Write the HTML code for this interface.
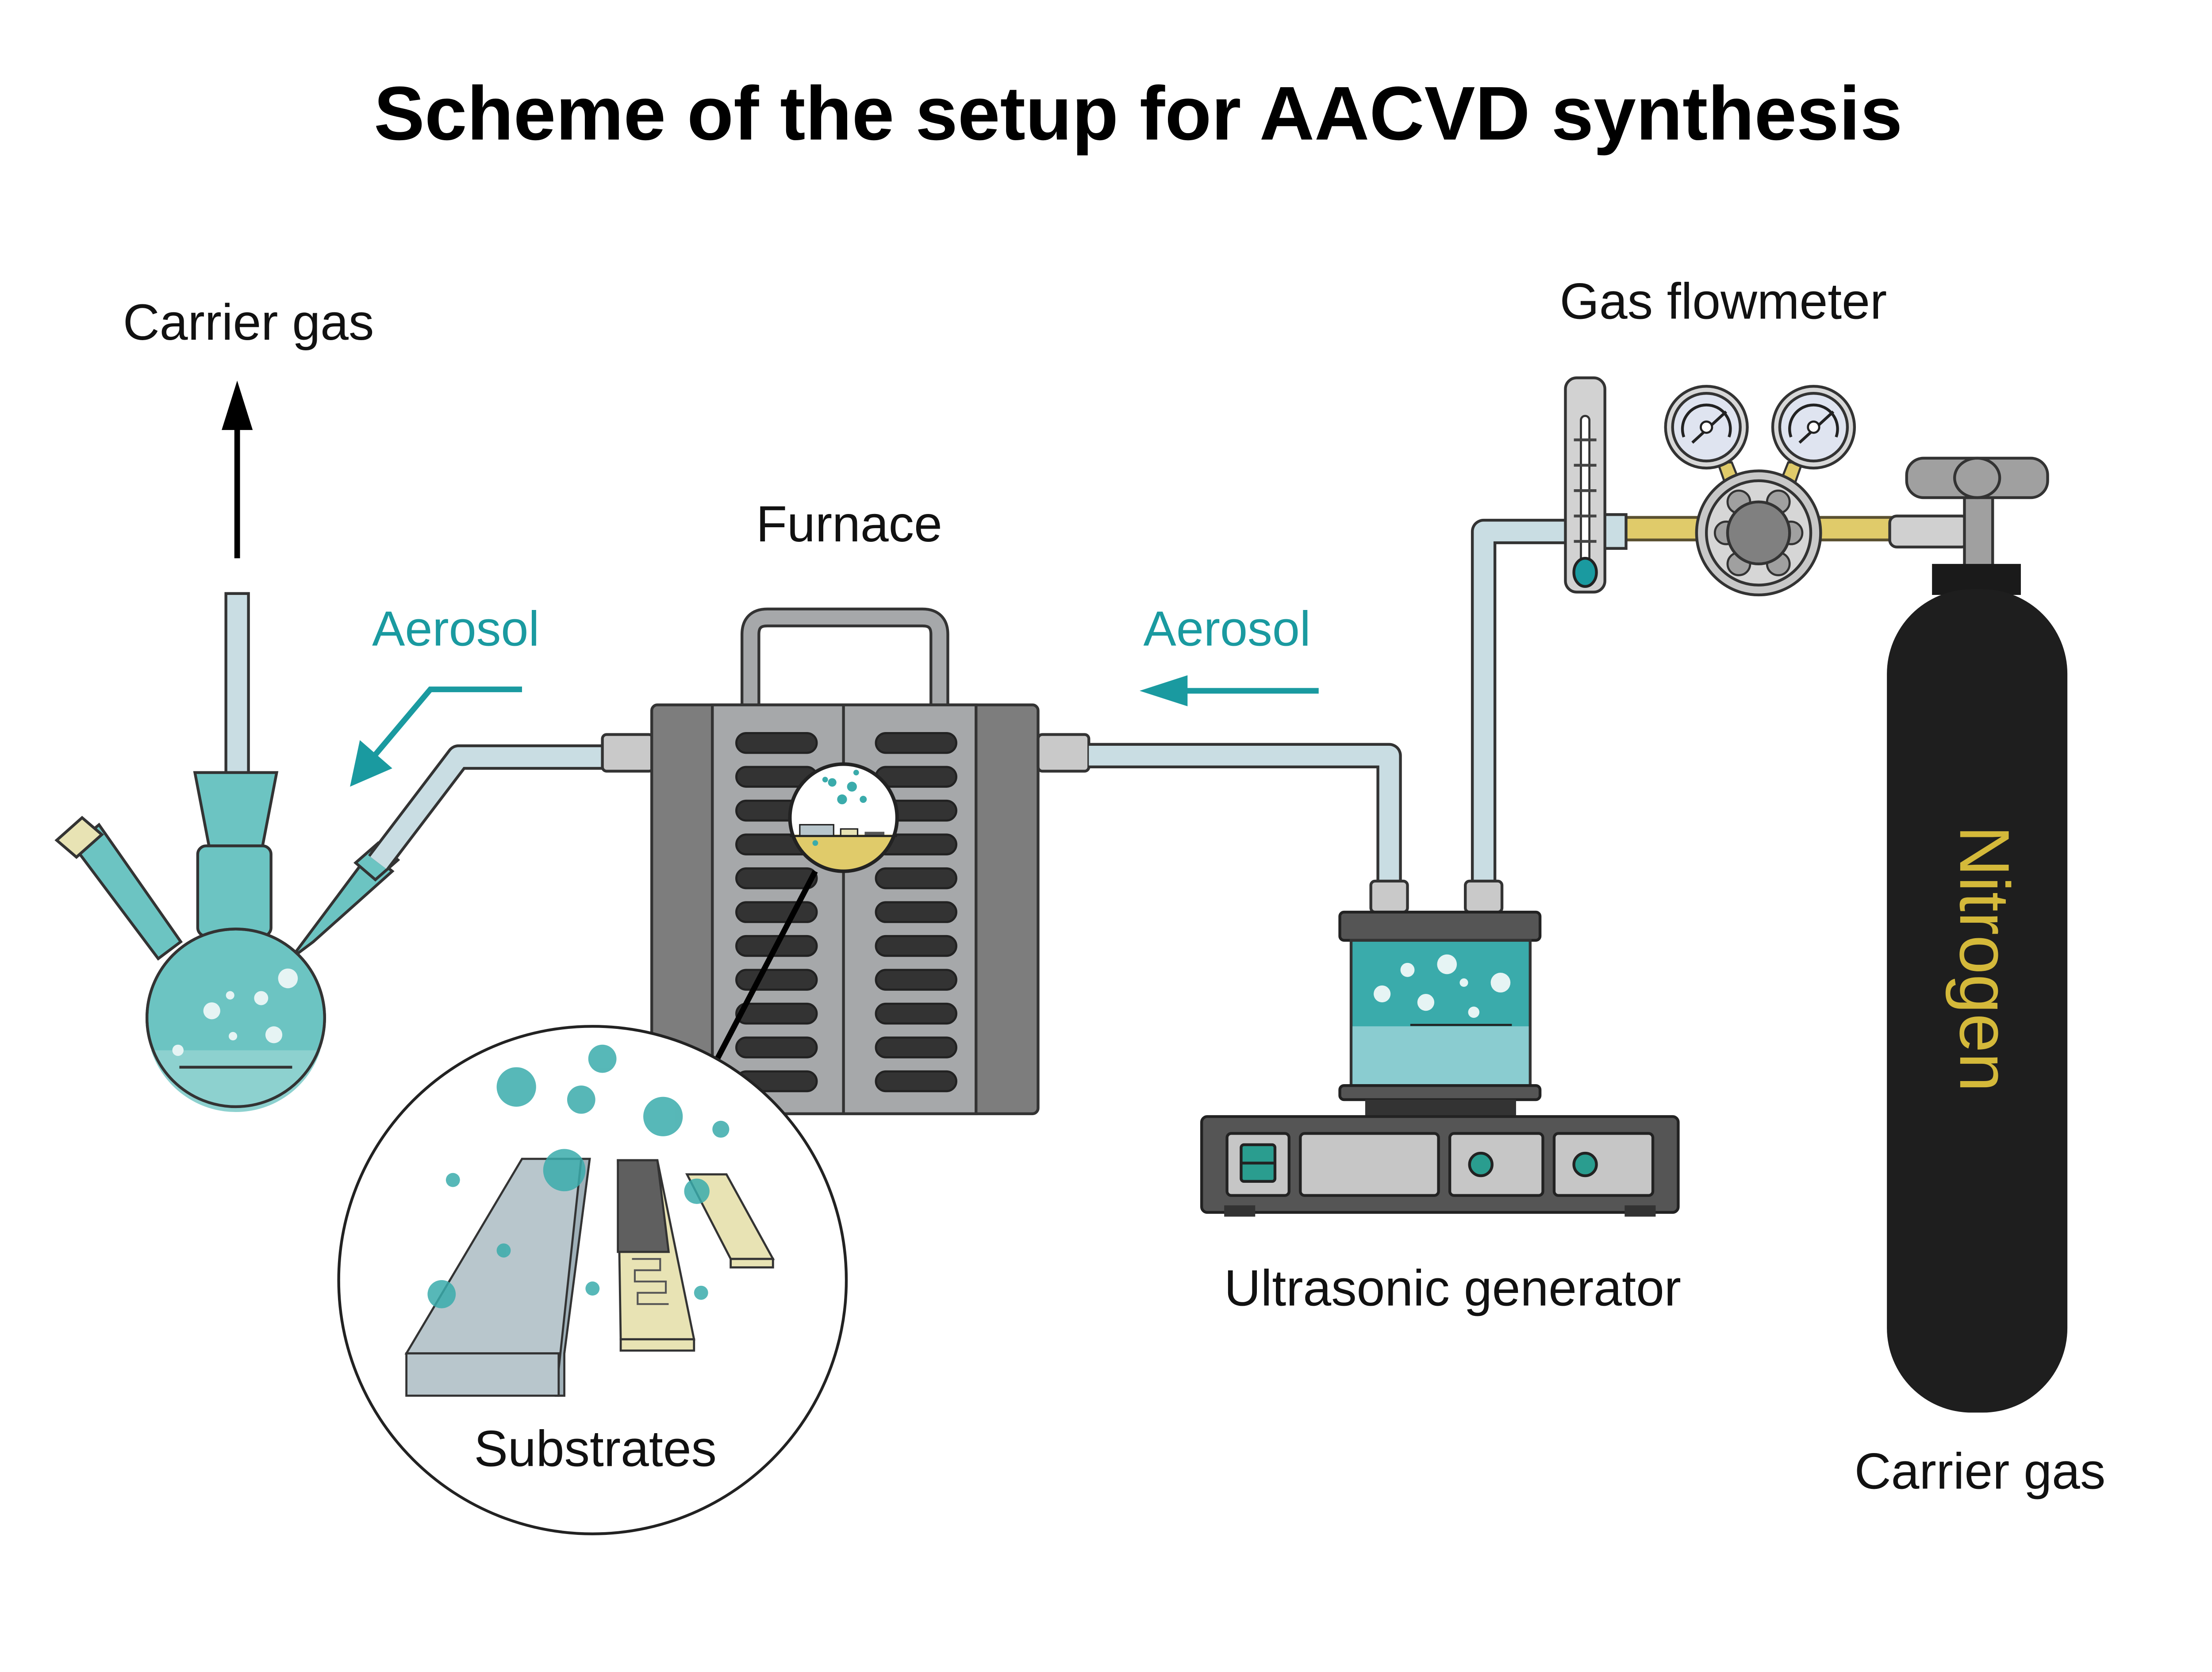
<!DOCTYPE html>
<html><head><meta charset="utf-8"><style>
html,body{margin:0;padding:0;background:#fff;}
svg{display:block;}
text{font-family:"Liberation Sans",sans-serif;}
</style></head><body>
<svg width="5120" height="3780" viewBox="0 0 1606 1186" xmlns="http://www.w3.org/2000/svg">
<rect width="1606" height="1186" fill="#fff"/>
<text x="807" y="99" font-size="54" font-weight="bold" text-anchor="middle" fill="#000">Scheme of the setup for AACVD synthesis</text>

<!-- left carrier gas -->
<text x="176" y="241" font-size="36" text-anchor="middle" fill="#111">Carrier gas</text>
<line x1="168" y1="396" x2="168" y2="300" stroke="#000" stroke-width="4"/>
<polygon points="168,270 157,305 179,305" fill="#000"/>

<!-- flask -->
<g stroke="#333" stroke-width="2">
<rect x="160" y="421" width="16" height="130" fill="#c9dde3"/>
<polygon points="52,600 70,585 128,668 112,680" fill="#6cc4c2"/>
<polygon points="40,596 58,580 72,592 54,608" fill="#e8e3b4"/>
<polygon points="222,668 206,680 262,605 278,618" fill="#6cc4c2"/>
<polygon points="252,612 268,598 282,610 266,624" fill="#6cc4c2"/>
<polygon points="138,548 196,548 186,600 148,600" fill="#6cc4c2"/>
<rect x="140" y="600" width="52" height="64" rx="6" fill="#6cc4c2"/>
<circle cx="167" cy="722" r="63" fill="#6cc4c2"/>
</g>
<path d="M107,745 A63 63 0 0 0 227,745 Z" fill="#8dd1cf"/>
<line x1="127" y1="757" x2="207" y2="757" stroke="#333" stroke-width="2"/>
<circle cx="167" cy="722" r="63" fill="none" stroke="#333" stroke-width="2"/>
<g fill="#e6f4f4"><circle cx="150" cy="717" r="6"/><circle cx="185" cy="708" r="5"/><circle cx="204" cy="694" r="7"/><circle cx="194" cy="734" r="6"/><circle cx="165" cy="735" r="3"/><circle cx="126" cy="745" r="4"/><circle cx="163" cy="706" r="3"/></g>

<!-- pipe left -->
<path d="M268,612 L325,537 L430,537" fill="none" stroke="#333" stroke-width="18" stroke-linejoin="round"/>
<path d="M268,612 L325,537 L430,537" fill="none" stroke="#c9dde3" stroke-width="14" stroke-linejoin="round"/>
<rect x="427" y="521" width="36" height="26" rx="3" fill="#c9c9c9" stroke="#333" stroke-width="2"/>

<!-- Aerosol left -->
<text x="323" y="458" font-size="35" text-anchor="middle" fill="#1a9aa0">Aerosol</text>
<path d="M370,489 L305,489 L262,540" fill="none" stroke="#1a9aa0" stroke-width="4"/>
<polygon points="248,558 255,525 278,545" fill="#1a9aa0"/>

<!-- furnace -->
<text x="602" y="384" font-size="36" text-anchor="middle" fill="#111">Furnace</text>
<path d="M532,500 L532,450 Q532,438 544,438 L654,438 Q666,438 666,450 L666,500" fill="none" stroke="#333" stroke-width="14"/>
<path d="M532,500 L532,450 Q532,438 544,438 L654,438 Q666,438 666,450 L666,500" fill="none" stroke="#a6a8aa" stroke-width="10"/>
<rect x="462" y="500" width="274" height="290" rx="4" fill="#7d7d7d" stroke="#333" stroke-width="2"/>
<rect x="505" y="500" width="187" height="290" fill="#a6a8aa" stroke="#333" stroke-width="2"/>
<line x1="598" y1="500" x2="598" y2="790" stroke="#333" stroke-width="2"/>
<g fill="#333" stroke="#222" stroke-width="1.5">
<rect x="522" y="520" width="57" height="14" rx="7"/><rect x="621" y="520" width="57" height="14" rx="7"/>
<rect x="522" y="544" width="57" height="14" rx="7"/><rect x="621" y="544" width="57" height="14" rx="7"/>
<rect x="522" y="568" width="57" height="14" rx="7"/><rect x="621" y="568" width="57" height="14" rx="7"/>
<rect x="522" y="592" width="57" height="14" rx="7"/><rect x="621" y="592" width="57" height="14" rx="7"/>
<rect x="522" y="616" width="57" height="14" rx="7"/><rect x="621" y="616" width="57" height="14" rx="7"/>
<rect x="522" y="640" width="57" height="14" rx="7"/><rect x="621" y="640" width="57" height="14" rx="7"/>
<rect x="522" y="664" width="57" height="14" rx="7"/><rect x="621" y="664" width="57" height="14" rx="7"/>
<rect x="522" y="688" width="57" height="14" rx="7"/><rect x="621" y="688" width="57" height="14" rx="7"/>
<rect x="522" y="712" width="57" height="14" rx="7"/><rect x="621" y="712" width="57" height="14" rx="7"/>
<rect x="522" y="736" width="57" height="14" rx="7"/><rect x="621" y="736" width="57" height="14" rx="7"/>
<rect x="522" y="760" width="57" height="14" rx="7"/><rect x="621" y="760" width="57" height="14" rx="7"/>
</g>
<clipPath id="mc"><circle cx="598" cy="580" r="38"/></clipPath>
<circle cx="598" cy="580" r="38" fill="#fff"/>
<rect x="555" y="592" width="90" height="40" fill="#e0cb6a" clip-path="url(#mc)"/>
<rect x="567" y="585" width="24" height="8" fill="#b8c6cc" stroke="#222" stroke-width="1"/>
<rect x="596" y="588" width="12" height="5" fill="#e8e3b4" stroke="#222" stroke-width="1"/>
<rect x="613" y="590" width="14" height="3" fill="#555"/>
<line x1="560" y1="593" x2="636" y2="593" stroke="#222" stroke-width="1.5"/>
<g fill="#3aabab"><circle cx="590" cy="555" r="3"/><circle cx="604" cy="558" r="3.5"/><circle cx="597" cy="567" r="3.5"/><circle cx="612" cy="567" r="2.5"/><circle cx="585" cy="553" r="2"/><circle cx="607" cy="548" r="2"/><circle cx="578" cy="598" r="2"/></g>
<circle cx="598" cy="580" r="38" fill="none" stroke="#222" stroke-width="2.5"/>
<line x1="578" y1="618" x2="508" y2="752" stroke="#000" stroke-width="4"/>

<!-- big circle -->
<circle cx="420" cy="908" r="180" fill="#fff" stroke="#222" stroke-width="2"/>
<g stroke="#333" stroke-width="1.5">
<polygon points="288,960 370,822 418,822 400,960" fill="#b8c6cc"/>
<polygon points="400,960 418,822 412,822 394,990 400,990" fill="#9fb0b8"/>
<rect x="288" y="960" width="108" height="30" fill="#b8c6cc"/>
<polygon points="438,823 466,823 492,950 440,950" fill="#e8e3b4"/>
<polygon points="438,823 466,823 474,888 438,888" fill="#5f5f5f"/>
<rect x="440" y="950" width="52" height="8" fill="#e8e3b4"/>
<polygon points="487,833 515,833 548,893 518,893" fill="#e8e3b4"/>
<rect x="518" y="893" width="30" height="6" fill="#e8e3b4"/>
</g>
<g fill="none" stroke="#555" stroke-width="1.3"><path d="M448,893 h20 v8 h-18 v8 h22 v8 h-20 v8 h22"/></g>
<g fill="#3aabab" opacity="0.85">
<circle cx="366" cy="771" r="14"/><circle cx="427" cy="751" r="10"/><circle cx="412" cy="780" r="10"/><circle cx="470" cy="792" r="14"/><circle cx="511" cy="801" r="6"/><circle cx="400" cy="830" r="15"/><circle cx="494" cy="845" r="9"/><circle cx="321" cy="837" r="5"/><circle cx="357" cy="887" r="5"/><circle cx="313" cy="918" r="10"/><circle cx="420" cy="914" r="5"/><circle cx="497" cy="917" r="5"/>
</g>
<text x="422" y="1040" font-size="36" text-anchor="middle" fill="#111">Substrates</text>

<!-- right pipe -->
<rect x="736" y="521" width="36" height="26" rx="3" fill="#c9c9c9" stroke="#333" stroke-width="2"/>
<path d="M772,536 L985,536 L985,627" fill="none" stroke="#333" stroke-width="18" stroke-linejoin="round"/>
<path d="M772,536 L985,536 L985,627" fill="none" stroke="#c9dde3" stroke-width="14" stroke-linejoin="round"/>
<text x="870" y="458" font-size="35" text-anchor="middle" fill="#1a9aa0">Aerosol</text>
<line x1="935" y1="490" x2="835" y2="490" stroke="#1a9aa0" stroke-width="4"/>
<polygon points="808,490 842,479 842,501" fill="#1a9aa0"/>

<!-- pipe to flowmeter -->
<path d="M1052,627 L1052,377 L1115,377" fill="none" stroke="#333" stroke-width="18" stroke-linejoin="round"/>
<path d="M1052,627 L1052,377 L1115,377" fill="none" stroke="#c9dde3" stroke-width="14" stroke-linejoin="round"/>

<!-- ultrasonic -->
<rect x="972" y="625" width="26" height="22" rx="3" fill="#c9c9c9" stroke="#333" stroke-width="2"/>
<rect x="1039" y="625" width="26" height="22" rx="3" fill="#c9c9c9" stroke="#333" stroke-width="2"/>
<rect x="950" y="647" width="142" height="20" rx="3" fill="#555" stroke="#222" stroke-width="2"/>
<rect x="958" y="667" width="127" height="103" fill="#3aabab" stroke="#333" stroke-width="2"/>
<rect x="959" y="728" width="125" height="41" fill="#8accd0"/>
<line x1="1000" y1="727" x2="1072" y2="727" stroke="#222" stroke-width="1.5"/>
<g fill="#e6f4f4"><circle cx="980" cy="705" r="6"/><circle cx="998" cy="688" r="5"/><circle cx="1026" cy="684" r="7"/><circle cx="1011" cy="711" r="6"/><circle cx="1045" cy="718" r="4"/><circle cx="1064" cy="697" r="7"/><circle cx="1038" cy="697" r="3"/></g>
<rect x="950" y="770" width="142" height="10" rx="3" fill="#555" stroke="#222" stroke-width="2"/>
<rect x="968" y="780" width="107" height="12" fill="#333"/>
<rect x="852" y="792" width="338" height="68" rx="4" fill="#555" stroke="#222" stroke-width="2"/>
<rect x="868" y="855" width="22" height="8" fill="#333"/><rect x="1152" y="855" width="22" height="8" fill="#333"/>
<rect x="870" y="804" width="44" height="44" rx="3" fill="#c6c6c6" stroke="#222" stroke-width="2"/>
<rect x="880" y="812" width="24" height="26" rx="2" fill="#2a9d8f" stroke="#222" stroke-width="2"/>
<line x1="880" y1="825" x2="904" y2="825" stroke="#222" stroke-width="2"/>
<rect x="922" y="804" width="98" height="44" rx="3" fill="#c6c6c6" stroke="#222" stroke-width="2"/>
<rect x="1028" y="804" width="66" height="44" rx="3" fill="#c6c6c6" stroke="#222" stroke-width="2"/>
<circle cx="1050" cy="826" r="8" fill="#2a9d8f" stroke="#222" stroke-width="2"/>
<rect x="1102" y="804" width="70" height="44" rx="3" fill="#c6c6c6" stroke="#222" stroke-width="2"/>
<circle cx="1124" cy="826" r="8" fill="#2a9d8f" stroke="#222" stroke-width="2"/>
<text x="1030" y="926" font-size="36" text-anchor="middle" fill="#111">Ultrasonic generator</text>

<!-- flowmeter & regulator -->
<text x="1222" y="226" font-size="36" text-anchor="middle" fill="#111">Gas flowmeter</text>
<rect x="1138" y="367" width="254" height="16" fill="#e0cb6a" stroke="#5a5030" stroke-width="2"/>
<rect x="1131" y="365" width="22" height="24" fill="#c9dde3" stroke="#333" stroke-width="2"/>
<rect x="1110" y="268" width="28" height="152" rx="8" fill="#d2d2d2" stroke="#333" stroke-width="2"/>
<rect x="1121" y="295" width="6" height="110" rx="3" fill="#fff" stroke="#333" stroke-width="1.5"/>
<g stroke="#444" stroke-width="2"><line x1="1116" y1="312" x2="1132" y2="312"/><line x1="1116" y1="330" x2="1132" y2="330"/><line x1="1116" y1="348" x2="1132" y2="348"/><line x1="1116" y1="366" x2="1132" y2="366"/><line x1="1116" y1="384" x2="1132" y2="384"/></g>
<ellipse cx="1124" cy="406" rx="8" ry="10" fill="#1a9aa0" stroke="#222" stroke-width="2"/>
<polygon points="1218,328 1228,328 1234,343 1224,345" fill="#e0cb6a" stroke="#333" stroke-width="1.5"/>
<polygon points="1268,328 1278,328 1272,345 1262,343" fill="#e0cb6a" stroke="#333" stroke-width="1.5"/>
<g stroke="#333" stroke-width="2">
<circle cx="1210" cy="303" r="29" fill="#d8d8d8"/><circle cx="1210" cy="303" r="24" fill="#dfe4f0"/>
<circle cx="1286" cy="303" r="29" fill="#d8d8d8"/><circle cx="1286" cy="303" r="24" fill="#dfe4f0"/>
</g>
<g stroke="#222" stroke-width="2" fill="none">
<path d="M1194,310 A17 17 0 1 1 1226,310"/><line x1="1200" y1="314" x2="1224" y2="292"/>
<path d="M1270,310 A17 17 0 1 1 1302,310"/><line x1="1276" y1="314" x2="1300" y2="292"/>
</g>
<circle cx="1210" cy="303" r="4" fill="#fff" stroke="#222" stroke-width="1.5"/><circle cx="1286" cy="303" r="4" fill="#fff" stroke="#222" stroke-width="1.5"/>
<circle cx="1247" cy="378" r="44" fill="#c8c8c8" stroke="#333" stroke-width="2"/>
<circle cx="1247" cy="378" r="37" fill="#d6d6d6" stroke="#333" stroke-width="2"/>
<g fill="#a0a0a0" stroke="#333" stroke-width="1.5"><circle cx="1233" cy="356" r="8"/><circle cx="1261" cy="356" r="8"/><circle cx="1224" cy="378" r="8"/><circle cx="1270" cy="378" r="8"/><circle cx="1233" cy="400" r="8"/><circle cx="1261" cy="400" r="8"/></g>
<circle cx="1247" cy="378" r="22" fill="#808080" stroke="#333" stroke-width="2"/>

<!-- cylinder -->
<rect x="1340" y="366" width="56" height="22" rx="5" fill="#d0d0d0" stroke="#333" stroke-width="2"/>
<rect x="1393" y="348" width="20" height="55" fill="#a0a0a0" stroke="#333" stroke-width="2"/>
<rect x="1352" y="325" width="100" height="28" rx="12" fill="#a0a0a0" stroke="#333" stroke-width="2"/>
<ellipse cx="1402" cy="339" rx="16" ry="14" fill="none" stroke="#333" stroke-width="2"/>
<rect x="1370" y="400" width="63" height="22" fill="#1a1a1a"/>
<rect x="1338" y="418" width="128" height="584" rx="60" fill="#1e1e1e"/>
<text x="0" y="0" font-size="50" fill="#d4b93a" transform="translate(1390,680) rotate(90)" text-anchor="middle">Nitrogen</text>
<text x="1404" y="1056" font-size="36" text-anchor="middle" fill="#111">Carrier gas</text>
</svg>
</body></html>
